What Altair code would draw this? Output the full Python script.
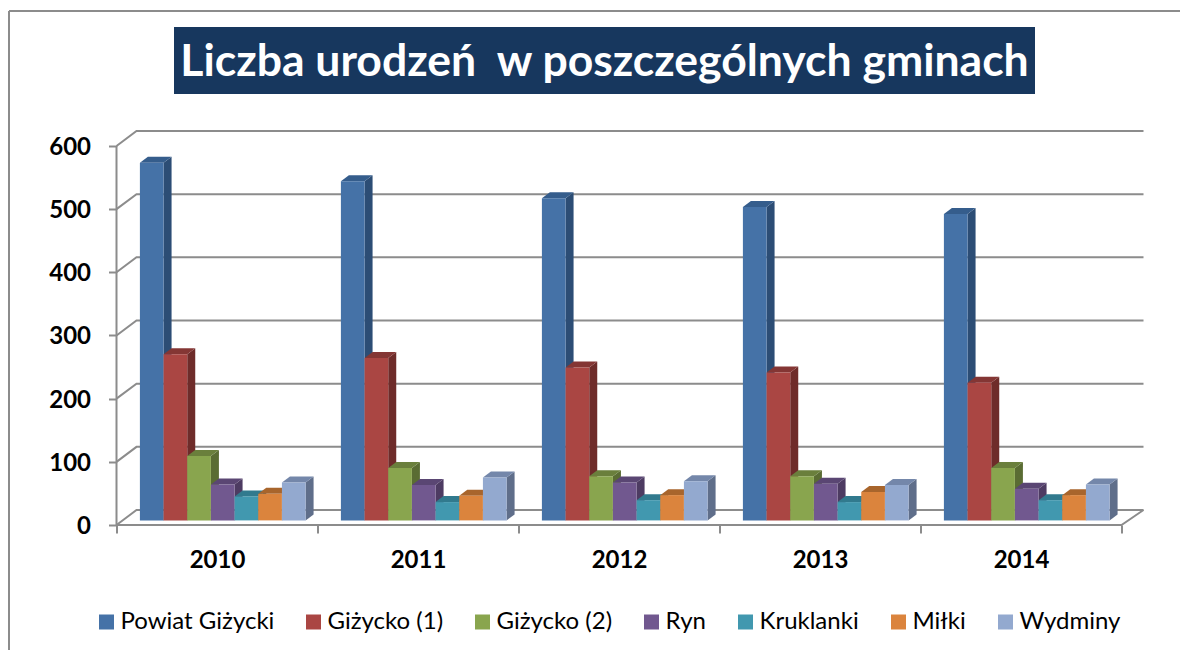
import altair as alt
import pandas as pd

title_text = "Liczba urodzeń \u00a0w poszczególnych gminach"
years = ["2010", "2011", "2012", "2013", "2014"]
series = ["Powiat Giżycki", "Giżycko (1)", "Giżycko (2)", "Ryn", "Kruklanki", "Miłki", "Wydminy"]
values = {
    "Powiat Giżycki": [566, 537, 510, 496, 485],
    "Giżycko (1)": [263, 257, 242, 234, 218],
    "Giżycko (2)": [102, 83, 70, 70, 83],
    "Ryn": [57, 56, 60, 58, 50],
    "Kruklanki": [38, 29, 32, 29, 32],
    "Miłki": [42, 39, 40, 45, 40],
    "Wydminy": [60, 68, 62, 56, 57],
}
front_colors = ["#4572A7", "#AA4643", "#89A54E", "#71588F", "#4198AF", "#DB843D", "#93A9CF"]
side_colors = ["#2C4D75", "#6E2C2A", "#5A6C33", "#4D3B62", "#2C6777", "#9A5C2A", "#5F6E8A"]
top_colors = ["#355D8C", "#843634", "#6A7F3C", "#5A4673", "#317A8E", "#A8652C", "#7487AA"]
y_ticks = [0, 100, 200, 300, 400, 500, 600]

GREY = "#8C8C8C"
UNIT = 201.0        # px per category
PXV = 0.6317        # px per count
W, H = 1005, 394
YMAX = H / PXV
BAR_W = 23.67 / UNIT
OFFSET = 23.4 / UNIT
BASE = 4.6 / PXV
BAR_DX, BAR_DY = 8 / UNIT, 6 / PXV
WALL_DX, WALL_DY = 20 / UNIT, 15 / PXV

front, sides, tops, lines = [], [], [], []
for s, name in enumerate(series):
    for g, v in enumerate(values[name]):
        x0 = g + OFFSET + s * BAR_W
        x1 = x0 + BAR_W
        b, t = BASE, BASE + v
        key = f"{s}-{g}"
        front.append(dict(x=x0, xe=x1, y=b, ye=t, face=name))
        for px, py, py2 in [(x1, b, t), (x1 + BAR_DX, b + BAR_DY, t + BAR_DY)]:
            sides.append(dict(x=px, y=py, ye=py2, face=name + " bok", key=key))
        for px, py, py2 in [
            (x0, t, t),
            (x0 + BAR_DX, t, t + BAR_DY),
            (x1, t, t + BAR_DY),
            (x1 + BAR_DX, t + BAR_DY, t + BAR_DY),
        ]:
            tops.append(dict(x=px, y=py, ye=py2, face=name + " góra", key=key))

for v in y_ticks:
    pts = [(0, v), (WALL_DX, v + WALL_DY), (5 + 22 / UNIT, v + WALL_DY)]
    for i, (px, py) in enumerate(pts):
        lines.append(dict(x=px, y=py, key=f"w{v}", i=i))
for i, (px, py) in enumerate([(0, 600), (0, 0), (5, 0), (5 + 22 / UNIT, WALL_DY)]):
    lines.append(dict(x=px, y=py, key="front", i=i))

domain = series + [n + " bok" for n in series] + [n + " góra" for n in series]
rng = front_colors + side_colors + top_colors

FONT = "Lato"
year_list = "[" + ",".join(f"'{y}'" for y in years) + "]"
x_axis = alt.Axis(
    values=[i / 2 for i in range(11)],
    labelExpr=f"datum.value % 1 ? {year_list}[floor(datum.value)] : ''",
    title=None, domain=False, grid=False, tickSize=8, tickColor=GREY, tickWidth=2,
    tickOpacity={"condition": {"test": "datum.value % 1 === 0", "value": 1}, "value": 0},
    labelFont=FONT, labelFontWeight="bold", labelFontSize=24, labelColor="#000000",
    labelPadding=15, labelOverlap=False, labelFlush=False, labelBound=False, labelAngle=0,
)
y_axis = alt.Axis(
    values=y_ticks, title=None, domain=False, grid=False, tickSize=8, tickColor=GREY, tickWidth=2,
    labelFont=FONT, labelFontWeight="bold", labelFontSize=24, labelColor="#000000",
    labelPadding=18, labelOffset=1.5, labelOverlap=False, labelFlush=False, labelBound=False,
)
X = alt.X("x:Q", scale=alt.Scale(domain=[0, 5], nice=False, zero=False), axis=x_axis)
Y = alt.Y("y:Q", scale=alt.Scale(domain=[0, YMAX], nice=False), axis=y_axis, stack=None)
C = alt.Color(
    "face:N", scale=alt.Scale(domain=domain, range=rng), title=None,
    legend=alt.Legend(
        values=series, orient="none", legendX=-22, legendY=479, direction="horizontal", columns=7,
        symbolType="square", symbolSize=225, symbolStrokeWidth=0, symbolOpacity=1,
        labelFont=FONT, labelFontSize=24, labelColor="#000000", labelOffset=2,
        columnPadding=27, labelLimit=300, padding=0,
    ),
)

line_layer = alt.Chart(pd.DataFrame(lines)).mark_line(color=GREY, strokeWidth=2, clip=False).encode(
    x=X, y=Y, detail="key:N", order="i:Q"
)
side_layer = alt.Chart(pd.DataFrame(sides)).mark_area(opacity=1, clip=False, orient="vertical").encode(
    x=X, y=Y, y2="ye:Q", color=C, detail="key:N"
)
top_layer = alt.Chart(pd.DataFrame(tops)).mark_area(opacity=1, clip=False, orient="vertical").encode(
    x=X, y=Y, y2="ye:Q", color=C, detail="key:N"
)
front_layer = alt.Chart(pd.DataFrame(front)).mark_rect(opacity=1, clip=False).encode(
    x=X, x2="xe:Q", y=Y, y2="ye:Q", color=C
)

anchor = alt.Chart(pd.DataFrame({"t": [title_text]}))
frame_top = anchor.mark_rule(color=GREY, strokeWidth=2).encode(
    x=alt.value(-107.5), x2=alt.value(1063.5), y=alt.value(-120)
)
frame_left = anchor.mark_rule(color=GREY, strokeWidth=2).encode(
    x=alt.value(-107.5), y=alt.value(-120), y2=alt.value(523)
)
title_box = anchor.mark_rect(color="#17375E", opacity=1).encode(
    x=alt.value(57.5), x2=alt.value(918.5), y=alt.value(-104), y2=alt.value(-37)
)
title_label = anchor.mark_text(
    font=FONT, fontWeight="bold", fontSize=44.5, color="#FFFFFF", align="center", baseline="middle"
).encode(x=alt.value(488), y=alt.value(-68.5), text="t:N")

chart = alt.layer(
    frame_top, frame_left, title_box, title_label, line_layer, side_layer, top_layer, front_layer
).properties(
    width=W, height=H, background="#FFFFFF",
    padding={"left": 108.5, "top": 123, "right": 58.5, "bottom": 125},
    autosize=alt.AutoSizeParams(type="none"),
).configure_view(stroke=None)

chart.save("out.html", embed_options={"renderer": "svg", "actions": False})
